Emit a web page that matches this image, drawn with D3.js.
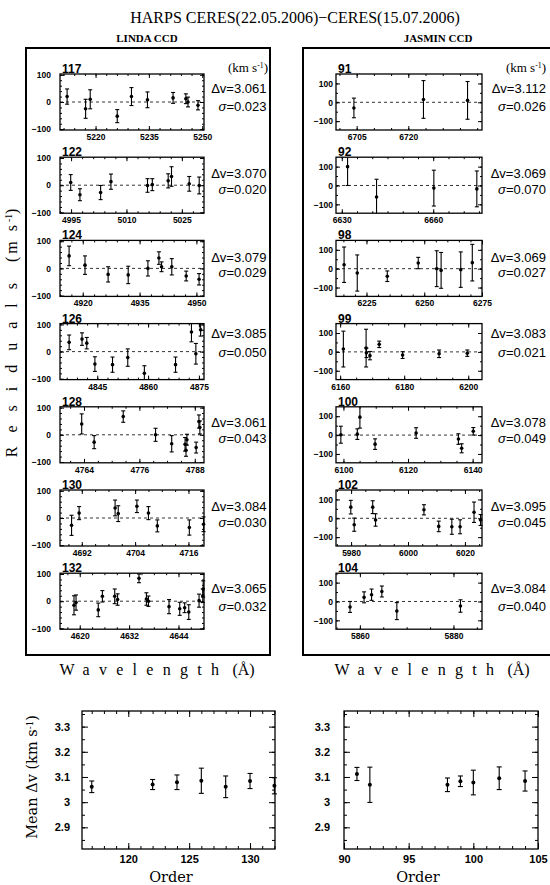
<!DOCTYPE html>
<html>
<head>
<meta charset="utf-8">
<script src="https://cdn.jsdelivr.net/npm/d3@7"></script>
<style>
body { margin: 0; background: #fff; }
</style>
</head>
<body>
<svg width="550" height="885"></svg>
<script>
// Residuals per order: [wavelength (A), residual (m/s), error (m/s)]
// LINDA CCD
var o117 = [[5212,20,28],[5217.2,-25,35],[5218.5,10,35],[5226.1,-52,24],[5230.1,20,33],[5234.6,8,29],[5241.8,15,20],[5245.4,12,18],[5246,0,18],[5248.8,-12,17]];
var o122 = [[4994.9,10,29],[4997.4,-35,22],[5003,-27,26],[5005.8,13,28],[5015.7,-1,25],[5017,2,22],[5021.3,16,26],[5022.2,32,36],[5027,5,27],[5029.7,-1,31]];
var o124 = [[4916.4,46,36],[4920.6,12,34],[4926.7,-22,28],[4932,-24,32],[4937.2,0,28],[4940.1,38,23],[4940.8,6,18],[4943.5,6,30],[4947.3,-28,18],[4950.7,-40,21]];
var o126 = [[4836.7,34,27],[4840.5,46,23],[4841.9,31,21],[4844.3,-46,27],[4849.5,-48,28],[4854,-22,32],[4858.9,-80,28],[4868.1,-48,28],[4872.8,72,36],[4874.1,-8,38],[4875.5,80,23]];
var o128 = [[4763.5,40,37],[4766.2,-27,24],[4772.5,67,21],[4779.5,0,24],[4783,-33,30],[4785.9,-35,25],[4786.1,-57,22],[4786.3,-18,20],[4788.3,-47,20],[4788.9,49,24],[4789.1,27,24]];
var o130 = [[4689.7,-27,37],[4691.4,18,24],[4699.5,37,29],[4700.2,16,29],[4704.4,43,23],[4707,18,24],[4709,-29,22],[4716.2,-35,28],[4719.4,-23,27]];
var o132 = [[4618.6,-15,35],[4619.1,-5,28],[4624.5,-32,25],[4625.5,18,21],[4628.5,18,27],[4629.2,6,21],[4634.4,84,16],[4636.2,8,23],[4636.7,0,19],[4641.7,-20,26],[4644.3,-28,24],[4645.5,-24,18],[4646.5,-40,27],[4649,2,24],[4649.9,20,25],[4650,45,30]];
// JASMIN CCD
var o91 = [[6704.2,-30,52],[6724.4,15,100],[6737.2,10,100]];
var o92 = [[6631.9,100,100],[6641.4,-61,94],[6660.2,-14,95],[6674.3,-18,95]];
var o98 = [[6215.3,21,94],[6221,-23,96],[6234,-40,28],[6247.4,30,30],[6255.4,0,95],[6257.3,-9,95],[6265.8,-5,94],[6270.8,32,97]];
var o99 = [[6161,15,95],[6168.1,20,100],[6168.2,-5,25],[6169.3,-20,22],[6172.2,40,17],[6179.5,-17,18],[6190.9,-10,20],[6199.7,-7,17]];
var o100 = [[6099.2,2,45],[6104.3,5,28],[6105.1,95,58],[6109.8,-48,28],[6122.5,11,28],[6135.6,-21,28],[6136.6,-70,24],[6140.2,20,20]];
var o102 = [[5979.9,59,36],[5981.1,-34,35],[5987.6,59,34],[5988.6,-9,33],[6005.6,45,27],[6010.8,-43,28],[6015.4,-45,40],[6018.3,-45,37],[6023.2,32,54],[6025.5,-9,29]];
var o104 = [[5857.9,-29,29],[5860.9,22,29],[5862.5,36,30],[5864.7,53,29],[5867.9,-51,45],[5881.5,-24,33]];

// Mean velocity shift and sigma per order (km/s)
var lindaOrders = [117,122,124,126,128,130,132];
var lindaDv = [3.061,3.070,3.079,3.085,3.061,3.084,3.065];
var lindaSig = [0.023,0.020,0.029,0.050,0.043,0.030,0.032];
var jasminOrders = [91,92,98,99,100,102,104];
var jasminDv = [3.112,3.069,3.069,3.083,3.078,3.095,3.084];
var jasminSig = [0.026,0.070,0.027,0.021,0.049,0.045,0.040];

// wavelength ranges and tick labels of each order panel
var lindaData = [o117,o122,o124,o126,o128,o130,o132];
var lindaRange = [[5210,5250.5],[4992,5031],[4914,4952],[4834,4876.5],[4758.8,4790],[4687.1,4719.5],[4615.2,4650.2]];
var lindaTicks = [[5220,5235,5250],[4995,5010,5025],[4920,4935,4950],[4845,4860,4875],[4764,4776,4788],[4692,4704,4716],[4620,4632,4644]];
var jasminData = [o91,o92,o98,o99,o100,o102,o104];
var jasminRange = [[6699,6741.4],[6628.1,6676],[6211.8,6275],[6158.7,6204.3],[6097.7,6142.9],[5974.7,6026],[5854.9,5886.1]];
var jasminTicks = [[6705,6720],[6630,6660],[6225,6250,6275],[6160,6180,6200],[6100,6120,6140],[5980,6000,6020],[5860,5880]];
var resTicks = [-100, 0, 100];
var meanTicks = [2.9, 3, 3.1, 3.2, 3.3];
var lindaOrderTicks = [120, 125, 130];
var jasminOrderTicks = [90, 95, 100, 105];

var svg = d3.select("svg");
var sans = "Liberation Sans, Arial, sans-serif";
var serif = "Liberation Serif, Times New Roman, serif";

// layout
var colL = {x: 60, w: 144, pad: 9, dvRight: 266.5, yDom: [-103, 103], yMinor: 20, minor: 3};
var colR = {x: 336, w: 146, pad: 3, dvRight: 546, yDom: [-147, 150], yMinor: 50, minor: 5};
var panTop0 = 74, panStep = 83.2, panH = 56;
var dvOff = [14, 16, 17, 10, 16, 16, 15];
var sgOff = [32, 32, 32, 29, 32, 32, 33];

function addAxis(g, axis, tx, ty, fs) {
    var a = g.append("g").attr("transform", "translate(" + tx + "," + ty + ")").call(axis);
    a.select(".domain").remove();
    a.selectAll("line").attr("stroke", "#000").attr("stroke-width", 1);
    a.attr("font-family", sans).attr("font-weight", "bold").attr("font-size", fs || 8);
    a.selectAll("text").attr("fill", "#000");
    return a;
}

function errBars(g, pts, x, y, dom, cap, r) {
    var e = g.append("g").selectAll("g").data(pts).enter().append("g");
    e.append("line")
        .attr("x1", function(d) { return x(d[0]); })
        .attr("x2", function(d) { return x(d[0]); })
        .attr("y1", function(d) { return y(d[1] - d[2]); })
        .attr("y2", function(d) { return y(d[1] + d[2]); })
        .attr("stroke", "#000").attr("stroke-width", 1.1);
    [1, -1].forEach(function(s) {
        e.filter(function(d) { var v = d[1] + s * d[2]; return v <= dom[1] && v >= dom[0]; })
            .append("line")
            .attr("x1", function(d) { return x(d[0]) - cap; })
            .attr("x2", function(d) { return x(d[0]) + cap; })
            .attr("y1", function(d) { return y(d[1] + s * d[2]); })
            .attr("y2", function(d) { return y(d[1] + s * d[2]); })
            .attr("stroke", "#000").attr("stroke-width", 1.1);
    });
    e.append("circle")
        .attr("cx", function(d) { return x(d[0]); })
        .attr("cy", function(d) { return y(d[1]); })
        .attr("r", r).attr("fill", "#000");
}

function residPanel(col, row, pts, range, ticks, order, dv, sig) {
    var top = panTop0 + row * panStep;
    var g = svg.append("g").attr("transform", "translate(" + col.x + "," + top + ")");
    var x = d3.scaleLinear().domain(range).range([0, col.w]);
    var y = d3.scaleLinear().domain(col.yDom).range([panH, 0]).clamp(true);
    var xm = d3.range(Math.ceil(range[0] / col.minor) * col.minor, range[1], col.minor);
    var ym = d3.range(Math.ceil(col.yDom[0] / col.yMinor) * col.yMinor, col.yDom[1], col.yMinor);

    addAxis(g, d3.axisBottom(x).tickValues(xm).tickSize(-2).tickFormat(""), 0, panH);
    addAxis(g, d3.axisTop(x).tickValues(xm).tickSize(-2).tickFormat(""), 0, 0);
    addAxis(g, d3.axisLeft(y).tickValues(ym).tickSize(-2).tickFormat(""), 0, 0);
    addAxis(g, d3.axisRight(y).tickValues(ym).tickSize(-2).tickFormat(""), col.w, 0);
    addAxis(g, d3.axisBottom(x).tickValues(ticks).tickSize(-4).tickPadding(4).tickFormat(d3.format("d")), 0, panH, 8.5);
    addAxis(g, d3.axisTop(x).tickValues(ticks).tickSize(-4).tickFormat(""), 0, 0);
    addAxis(g, d3.axisLeft(y).tickValues(resTicks).tickSize(-4).tickPadding(col.pad).tickFormat(d3.format("d")), 0, 0, 8.5);
    addAxis(g, d3.axisRight(y).tickValues(resTicks).tickSize(-4).tickFormat(""), col.w, 0);

    g.append("rect").attr("width", col.w).attr("height", panH)
        .attr("fill", "none").attr("stroke", "#000").attr("stroke-width", 1.3);
    g.append("line").attr("x1", 0).attr("x2", col.w).attr("y1", y(0)).attr("y2", y(0))
        .attr("stroke", "#000").attr("stroke-width", 0.8).attr("stroke-dasharray", "3,3");

    errBars(g, pts, x, y, col.yDom, 2, 1.8);

    g.append("text").attr("x", 2).attr("y", -1)
        .attr("font-family", sans).attr("font-weight", "bold").attr("font-size", 12)
        .text(order);

    var rx = col.dvRight - col.x;
    g.append("text").attr("x", rx).attr("y", dvOff[row] + 4.6).attr("text-anchor", "end")
        .attr("font-family", sans).attr("font-size", 13)
        .text("\u0394v=" + dv.toFixed(3));
    var s = g.append("text").attr("x", rx).attr("y", sgOff[row] + 4.6).attr("text-anchor", "end")
        .attr("font-family", sans).attr("font-size", 13);
    s.append("tspan").attr("font-style", "italic").text("\u03c3");
    s.append("tspan").text("=" + sig.toFixed(3));
}

function meanPanel(x0, w, orders, dv, sig, xDom, xTicks, pad) {
    var top = 711, h = 138;
    var yDom = [2.814, 3.362];
    var g = svg.append("g").attr("transform", "translate(" + x0 + "," + top + ")");
    var x = d3.scaleLinear().domain(xDom).range([0, w]);
    var y = d3.scaleLinear().domain(yDom).range([h, 0]);
    var xm = d3.range(Math.ceil(xDom[0]), xDom[1] + 0.001, 1);
    var ym = d3.range(2.85, 3.36, 0.05);
    var pts = orders.map(function(o, i) { return [o, dv[i], sig[i]]; });

    addAxis(g, d3.axisBottom(x).tickValues(xm).tickSize(-3).tickFormat(""), 0, h);
    addAxis(g, d3.axisTop(x).tickValues(xm).tickSize(-3).tickFormat(""), 0, 0);
    addAxis(g, d3.axisLeft(y).tickValues(ym).tickSize(-3).tickFormat(""), 0, 0);
    addAxis(g, d3.axisRight(y).tickValues(ym).tickSize(-3).tickFormat(""), w, 0);
    addAxis(g, d3.axisBottom(x).tickValues(xTicks).tickSize(-6).tickPadding(6).tickFormat(d3.format("d")), 0, h, 11);
    addAxis(g, d3.axisTop(x).tickValues(xTicks).tickSize(-6).tickFormat(""), 0, 0);
    addAxis(g, d3.axisLeft(y).tickValues(meanTicks).tickSize(-6).tickPadding(pad).tickFormat(d3.format("~g")), 0, 0, 11);
    addAxis(g, d3.axisRight(y).tickValues(meanTicks).tickSize(-6).tickFormat(""), w, 0);

    g.append("rect").attr("width", w).attr("height", h)
        .attr("fill", "none").attr("stroke", "#000").attr("stroke-width", 1.3);

    errBars(g, pts, x, y, yDom, 2.5, 2);
}

// outer frames
svg.append("rect").attr("x", 26).attr("y", 48).attr("width", 244).attr("height", 607)
    .attr("fill", "none").attr("stroke", "#000").attr("stroke-width", 2);
svg.append("rect").attr("x", 303).attr("y", 48).attr("width", 262).attr("height", 607)
    .attr("fill", "none").attr("stroke", "#000").attr("stroke-width", 2);

lindaData.forEach(function(pts, i) {
    residPanel(colL, i, pts, lindaRange[i], lindaTicks[i], lindaOrders[i], lindaDv[i], lindaSig[i]);
});
jasminData.forEach(function(pts, i) {
    residPanel(colR, i, pts, jasminRange[i], jasminTicks[i], jasminOrders[i], jasminDv[i], jasminSig[i]);
});

meanPanel(82, 193, lindaOrders, lindaDv, lindaSig, [116.2, 132.05], lindaOrderTicks, 12);
meanPanel(344, 194, jasminOrders, jasminDv, jasminSig, [90, 105], jasminOrderTicks, 14);

// titles
svg.append("text").attr("x", 295).attr("y", 23).attr("text-anchor", "middle")
    .attr("font-family", serif).attr("font-size", 16)
    .text("HARPS CERES(22.05.2006)\u2212CERES(15.07.2006)");
svg.append("text").attr("x", 147).attr("y", 42).attr("text-anchor", "middle")
    .attr("font-family", serif).attr("font-weight", "bold").attr("font-size", 11)
    .text("LINDA CCD");
svg.append("text").attr("x", 438).attr("y", 42).attr("text-anchor", "middle")
    .attr("font-family", serif).attr("font-weight", "bold").attr("font-size", 11)
    .text("JASMIN CCD");

// label: spaced word, then a unit part "(… s^-1)"
function label(sel, word, ls, unit, uls, sup) {
    sel.append("tspan").attr("letter-spacing", ls).text(word);
    sel.append("tspan").attr("letter-spacing", uls).text(" " + unit);
    if (sup) {
        sel.append("tspan").attr("letter-spacing", 0).attr("font-size", "0.6em").attr("dy", "-0.5em").text("-1");
        sel.append("tspan").attr("letter-spacing", 0).attr("dy", "0.3em").text(")");
    }
}

[268, 546].forEach(function(xr) {
    label(svg.append("text").attr("x", xr).attr("y", 72).attr("text-anchor", "end")
        .attr("font-family", serif).attr("font-size", 13), "(km", 0, "s", 0, true);
});

label(svg.append("text").attr("transform", "translate(17,333) rotate(-90)")
    .attr("text-anchor", "middle").attr("font-family", serif).attr("font-size", 16),
    "Residuals", 14, "(m  s", 3, true);

[157, 432].forEach(function(cx) {
    label(svg.append("text").attr("x", cx).attr("y", 675).attr("text-anchor", "middle")
        .attr("font-family", serif).attr("font-size", 16),
        "Wavelength", 9.3, "(\u00c5)", 0, false);
});

label(svg.append("text").attr("transform", "translate(37,777) rotate(-90)")
    .attr("text-anchor", "middle").attr("font-family", "DejaVu Serif, serif").attr("font-size", 14.5),
    "Mean", 0, "\u0394v (km s", 0, true);

[171, 418].forEach(function(cx) {
    svg.append("text").attr("x", cx).attr("y", 882).attr("text-anchor", "middle")
        .attr("font-family", "DejaVu Serif, serif").attr("font-size", 14.5)
        .text("Order");
});
</script>
</body>
</html>
